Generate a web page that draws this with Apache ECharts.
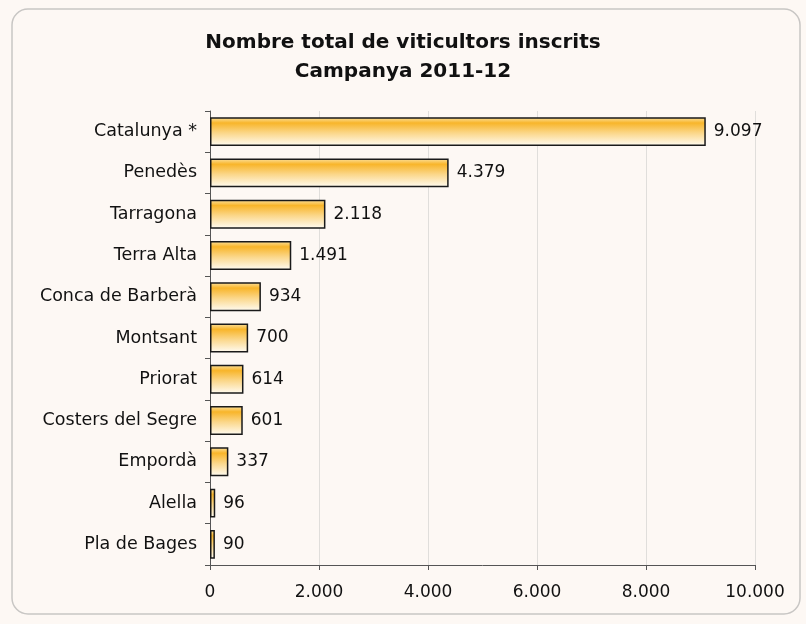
<!DOCTYPE html>
<html>
<head>
<meta charset="utf-8">
<script src="https://cdn.jsdelivr.net/npm/echarts@6/dist/echarts.min.js"></script>
<style>
  html, body { margin: 0; padding: 0; background: #fdf8f4; }
  #chart { width: 806px; height: 624px; }
</style>
</head>
<body>
<div id="chart"></div>
<script>
const categories = ['Catalunya *', 'Penedès', 'Tarragona', 'Terra Alta', 'Conca de Barberà',
  'Montsant', 'Priorat', 'Costers del Segre', 'Empordà', 'Alella', 'Pla de Bages']
const values = [9097, 4379, 2118, 1491, 934, 700, 614, 601, 337, 96, 90]
const xTicks = [0, 2000, 4000, 6000, 8000, 10000]

// 9097 -> "9.097"
function fmt(v) {
  return String(v).replace(/\B(?=(\d{3})+(?!\d))/g, '.')
}

const chart = echarts.init(document.getElementById('chart'))
const font = '"DejaVu Sans", sans-serif'

const option = {
  backgroundColor: '#fdf8f4',
  animation: false,
  textStyle: { fontFamily: font },
  title: {
    text: 'Nombre total de viticultors inscrits\nCampanya 2011-12',
    left: 'center',
    top: 23,
    textStyle: { fontSize: 20, fontWeight: 'bold', color: '#111', lineHeight: 29, fontFamily: font }
  },
  graphic: [{
    type: 'rect',
    shape: { x: 12, y: 9, width: 788, height: 605, r: 16 },
    style: { fill: 'none', stroke: '#c8c6c4', lineWidth: 1.5 },
    silent: true
  }],
  grid: { left: 210, right: 51, top: 111, bottom: 59 },
  xAxis: {
    type: 'value',
    min: xTicks[0],
    max: xTicks[xTicks.length - 1],
    interval: 2000,
    axisLine: { show: true, lineStyle: { color: '#555', width: 1 } },
    axisTick: { show: true, length: 5, lineStyle: { color: '#555' } },
    splitLine: { show: true, lineStyle: { color: '#e0dedb', width: 1 } },
    axisLabel: { fontSize: 17, color: '#111', margin: 19, formatter: v => fmt(v) }
  },
  yAxis: {
    type: 'category',
    inverse: true,
    data: categories,
    axisLine: { show: true, lineStyle: { color: '#555', width: 1 } },
    axisTick: { show: true, length: 5, lineStyle: { color: '#555' } },
    axisLabel: { fontSize: 17.5, color: '#111', margin: 13 }
  },
  series: [{
    type: 'bar',
    data: values,
    barWidth: '70%',
    itemStyle: {
      borderColor: '#1a1a1a',
      borderWidth: 1.5,
      color: new echarts.graphic.LinearGradient(0, 0, 0, 1, [
        { offset: 0, color: '#fce3a4' },
        { offset: 0.2, color: '#f8b52a' },
        { offset: 0.55, color: '#fbd78a' },
        { offset: 1, color: '#fffcf4' }
      ])
    },
    label: {
      show: true,
      position: 'right',
      distance: 8,
      fontSize: 17,
      color: '#111',
      formatter: p => fmt(p.value)
    }
  }]
}

chart.setOption(option)
</script>
</body>
</html>
